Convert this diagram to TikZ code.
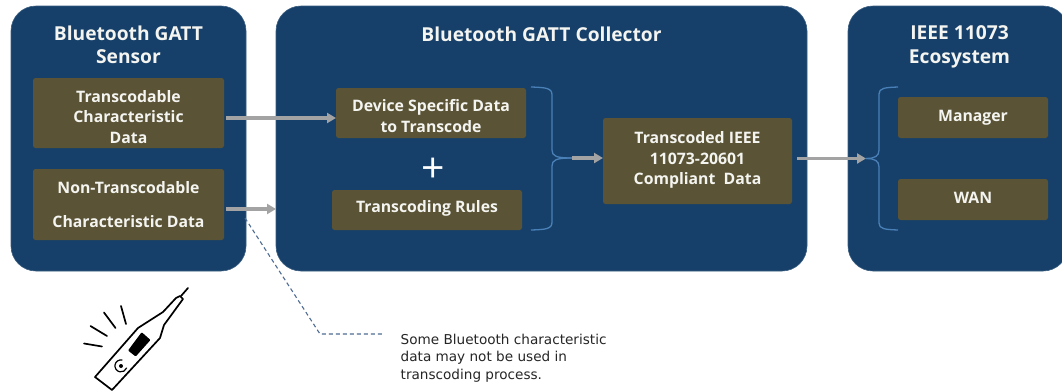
\documentclass[tikz,border=0pt]{standalone}
\usepackage{fontspec}
\setmainfont{Open Sans}
\newfontfamily\notefont{DejaVu Sans}
\usetikzlibrary{arrows.meta}
\definecolor{panelblue}{HTML}{164069}
\definecolor{boxbrown}{HTML}{5A5335}
\definecolor{arrowgray}{HTML}{A3A3A3}
\definecolor{bracecol}{HTML}{4A80B8}
\definecolor{dashcol}{HTML}{4F6C92}
\definecolor{txtwhite}{HTML}{F4F4F0}
\newcommand{\ibox}[7]{\node[innerbox, minimum width=#3 pt-#2 pt, minimum height=#5 pt-#4 pt] (#1) at ({(#2+#3)/2},{(#4+#5)/2}) {};
  \node[boxtext] (#1t) at ({(#2+#3)/2},{(#4+#5)/2+#6}) {#7};}
\tikzset{
  panel/.style={fill=panelblue, draw=panelblue!85!white, line width=0.6pt, rounded corners=25pt, inner sep=0pt, outer sep=0pt},
  innerbox/.style={fill=boxbrown, rounded corners=2.5pt, inner sep=0pt, outer sep=0pt},
  boxtext/.style={inner sep=0pt, outer sep=0pt, text=txtwhite, align=center,
    font=\fontsize{15.8}{20.5}\selectfont\bfseries},
  titletext/.style={text=txtwhite, align=center, inner sep=0pt, font=\fontsize{19.2}{23.5}\selectfont\bfseries},
  flow/.style={draw=arrowgray, line width=3.1pt, -{Triangle[length=9pt,width=10pt]}},
  brace/.style={draw=bracecol, line width=1.3pt},
  leader/.style={draw=dashcol, line width=1.1pt, dash pattern=on 4pt off 3pt},
  icon/.style={draw=black, line width=1.7pt, line cap=round, line join=round},
}
\begin{document}
\begin{tikzpicture}[x=1pt,y=-1pt]
\useasboundingbox[fill=white] (0,0) rectangle (1062,391);
% panels
\node[panel, minimum width=235pt, minimum height=265pt] (sensor) at (128.5,138.5) {};
\node[panel, minimum width=531pt, minimum height=265pt] (collector) at (541.5,138.5) {};
\node[panel, minimum width=220pt, minimum height=265pt] (eco) at (958,138.5) {};
% titles
\node[titletext] (tsensor) at (128.5,45) {Bluetooth GATT\\Sensor};
\node[titletext] (tcollector) at (541.5,34) {Bluetooth GATT Collector};
\node[titletext] (teco) at (959.5,47) {IEEE 11073\\Ecosystem};
% inner boxes
\ibox{tc}{33}{224}{78}{148}{4}{Transcodable\\Characteristic\\Data}
\ibox{nt}{33}{224}{169}{240}{0}{Non-Transcodable\\[13.5pt]Characteristic Data}
\ibox{dev}{336}{526}{88}{138}{3}{Device Specific Data\\to Transcode}
\ibox{rules}{332}{522}{190}{230}{-2}{Transcoding Rules}
\ibox{comp}{603}{792}{118}{204}{-1}{Transcoded IEEE\\11073-20601\\Compliant\ \ Data}
\ibox{mgr}{898}{1048}{97}{138}{0}{Manager}
\ibox{wan}{898}{1048}{179}{220}{-2}{WAN}
\node[text=white, inner sep=0pt, font=\fontsize{41}{41}\selectfont] (plus) at (433,170.5) {+};
% braces
\coordinate (b1) at (572,158);
\coordinate (b2) at (866,158.5);
\draw[brace] (531,87) .. controls (546,87.5) and (552,88) .. (552,95) -- (552,150) .. controls (552,156) and (556,158) .. (b1);
\draw[brace] (531,230) .. controls (546,229.5) and (552,229) .. (552,222) -- (552,166) .. controls (552,160) and (556,158) .. (b1);
\draw[brace] (898,87) .. controls (885,87.5) and (879,88) .. (879,94) -- (879,150) .. controls (879,156) and (875,158.5) .. (b2);
\draw[brace] (898,230) .. controls (885,229.5) and (879,229) .. (879,223) -- (879,167) .. controls (879,161) and (875,158.5) .. (b2);
% flows
\draw[flow] ([xshift=2pt]tc.east |- 0,118) -- (dev.west |- 0,118);
\draw[flow] ([xshift=2pt]nt.east |- 0,209) -- (collector.west |- 0,209);
\draw[flow] (b1) -- (comp.west |- b1);
\draw[flow] ([xshift=5pt]comp.east |- b2) -- (b2);
% leader
\coordinate (l1) at (320,334);
\coordinate (l2) at (382,334);
\draw[leader] (nt.east |- 0,218) ++(21,0) -- (l1) -- (l2);
\node[anchor=north west, align=left, inner sep=0pt, text=black!85, font=\notefont\fontsize{13.6}{17.5}\selectfont] (note) at (400.5,333.5) {Some Bluetooth characteristic\\data may not be used in\\transcoding process.};
% thermometer icon
\draw[icon] (95,377) -- (112,390) -- (160,338) -- (164,325) -- (183,299) -- (180,296) -- (176,298) -- (163,312) -- (138,328) -- cycle;
\draw[icon] (181,296) -- (188,288);
\fill[black, rounded corners=1pt] (128,350.5) -- (141.7,332.2) -- (150.5,340) -- (135.7,356.5) -- cycle;
\fill[black] (121,366) circle (2);
\draw[icon, line width=1.2pt] (122,360) arc[start angle=280, end angle=20, radius=6];
\draw[icon] (84,343.5) -- (102,346.5);
\draw[icon] (90.5,326) -- (107,336);
\draw[icon] (104,312.5) -- (115.5,328);
\draw[icon] (121,306) -- (126,324);
\end{tikzpicture}
\end{document}
